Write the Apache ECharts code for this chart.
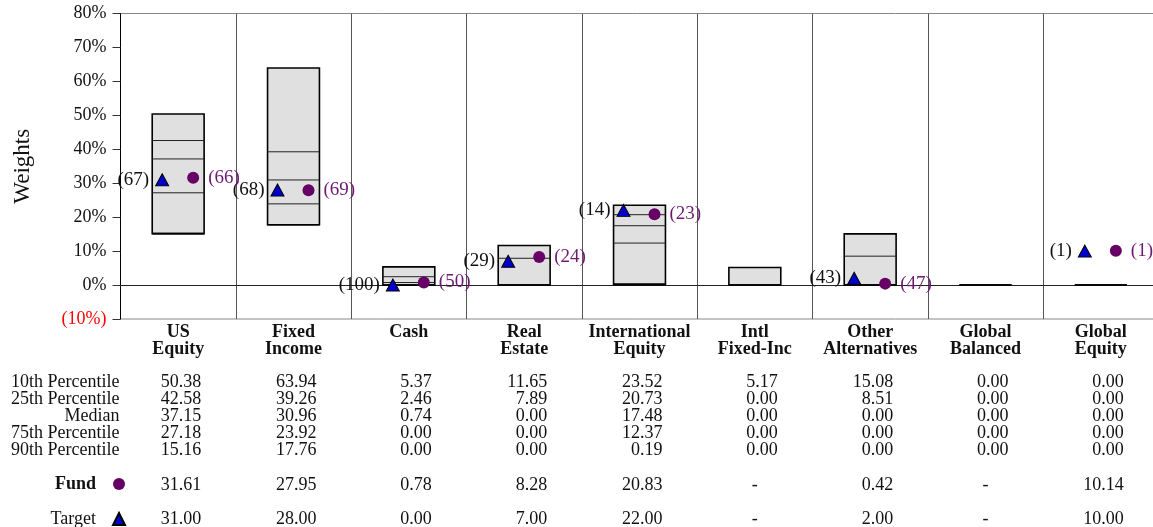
<!DOCTYPE html>
<html>
<head>
<meta charset="utf-8">
<script src="https://cdn.jsdelivr.net/npm/echarts@6/dist/echarts.min.js"></script>
<style>
  html, body { margin: 0; padding: 0; background: #fff; }
  #chart { width: 1153px; height: 527px; }
</style>
</head>
<body>
<div id="chart"></div>
<script>
// Asset classes shown along the x axis
const categories = ['US\nEquity', 'Fixed\nIncome', 'Cash', 'Real\nEstate', 'International\nEquity',
  'Intl\nFixed-Inc', 'Other\nAlternatives', 'Global\nBalanced', 'Global\nEquity'];

// Peer-group percentile weights (%)
const pct10 = [50.38, 63.94, 5.37, 11.65, 23.52, 5.17, 15.08, 0.00, 0.00];
const pct25 = [42.58, 39.26, 2.46, 7.89, 20.73, 0.00, 8.51, 0.00, 0.00];
const median = [37.15, 30.96, 0.74, 0.00, 17.48, 0.00, 0.00, 0.00, 0.00];
const pct75 = [27.18, 23.92, 0.00, 0.00, 12.37, 0.00, 0.00, 0.00, 0.00];
const pct90 = [15.16, 17.76, 0.00, 0.00, 0.19, 0.00, 0.00, 0.00, 0.00];

// Fund and target weights (%), null where not held
const fundWeights = [31.61, 27.95, 0.78, 8.28, 20.83, null, 0.42, null, 10.14];
const targetWeights = [31.00, 28.00, 0.00, 7.00, 22.00, null, 2.00, null, 10.00];

// Percentile ranks printed beside the markers
const fundRanks = [66, 69, 50, 24, 23, null, 47, null, 1];
const targetRanks = [67, 68, 100, 29, 14, null, 43, null, 1];

// Value axis range
const yMin = -10, yMax = 80, yStep = 10;

// Rows of the statistics table under the chart
const tableRows = [
  { name: '10th Percentile', values: pct10 },
  { name: '25th Percentile', values: pct25 },
  { name: 'Median', values: median },
  { name: '75th Percentile', values: pct75 },
  { name: '90th Percentile', values: pct90 },
  { name: '', values: fundWeights },
  { name: '', values: targetWeights }
];
const rowOffsets = [63, 80, 97, 114, 131, 166, 200];

const FONT = '"Liberation Serif", "DejaVu Serif", serif';
const TEXT = '#111';

function fmt(v) { return v == null ? '{d|-}' : '{v|' + v.toFixed(2) + '}'; }

function renderBox(params, api) {
  const x = api.value(0);
  const top = api.coord([x, api.value(1)]);
  const q1 = api.coord([x, api.value(2)]);
  const md = api.coord([x, api.value(3)]);
  const q3 = api.coord([x, api.value(4)]);
  const bot = api.coord([x, api.value(5)]);
  const w = api.size([1, 0])[0] * 0.45;
  const x0 = top[0] - w / 2;
  const inner = (p) => ({
    type: 'line',
    shape: { x1: x0, y1: p[1], x2: x0 + w, y2: p[1] },
    style: { stroke: '#222', lineWidth: 1 }
  });
  return {
    type: 'group',
    children: [
      { type: 'rect', shape: { x: x0, y: top[1], width: w, height: bot[1] - top[1] },
        style: { fill: '#e0e0e0', stroke: '#000', lineWidth: 1.6 } },
      inner(q1), inner(md), inner(q3),
      { type: 'line', shape: { x1: x0, y1: bot[1], x2: x0 + w, y2: bot[1] },
        style: { stroke: '#000', lineWidth: 1.6 } }
    ]
  };
}

const tableAxes = tableRows.map((row, r) => ({
  type: 'category',
  data: categories,
  gridIndex: 0,
  position: 'bottom',
  offset: rowOffsets[r],
  name: row.name,
  nameLocation: 'start',
  nameGap: 1,
  nameTextStyle: { fontFamily: FONT, fontSize: 18, color: TEXT, align: 'right', verticalAlign: 'middle' },
  axisLine: { show: false },
  axisTick: { show: false },
  splitLine: { show: false },
  axisLabel: {
    interval: 0,
    margin: 0,
    verticalAlign: 'middle',
    formatter: (val, idx) => fmt(row.values[idx]),
    rich: {
      v: { fontFamily: FONT, fontSize: 18, color: TEXT, width: 46, align: 'right' },
      d: { fontFamily: FONT, fontSize: 18, color: TEXT, width: 46, align: 'center' }
    }
  }
}));

const chart = echarts.init(document.getElementById('chart'));
chart.setOption({
  animation: false,
  backgroundColor: '#fff',
  textStyle: { fontFamily: FONT },
  grid: {
    left: 120.5, top: 13.5, width: 1038, bottom: 208,
    outerBoundsMode: 'none',
    show: true, borderColor: '#888', borderWidth: 1
  },
  legend: {
    orient: 'vertical',
    align: 'right',
    right: 1027,
    top: 475,
    height: 60,
    padding: 0,
    itemGap: 17,
    itemWidth: 12,
    itemHeight: 12,
    selectedMode: false,
    data: [
      { name: 'Fund', icon: 'circle', textStyle: { fontFamily: FONT, fontSize: 18, lineHeight: 14, color: TEXT, fontWeight: 'bold', padding: [0, 12, 0, 0] } },
      { name: 'Target', icon: 'triangle' }
    ],
    textStyle: { fontFamily: FONT, fontSize: 18, lineHeight: 14, color: TEXT, padding: [0, 12, 0, 0] }
  },
  xAxis: [
    {
      type: 'category',
      data: categories,
      boundaryGap: true,
      axisLine: { show: true, lineStyle: { color: '#222', width: 1 } },
      axisTick: { show: false },
      splitLine: { show: true, interval: 0, lineStyle: { color: '#555', width: 1 } },
      axisLabel: {
        interval: 0, margin: 5, fontFamily: FONT, fontSize: 18, fontWeight: 'bold',
        lineHeight: 17, color: TEXT
      }
    }
  ].concat(tableAxes),
  yAxis: {
    type: 'value',
    min: yMin, max: yMax, interval: yStep,
    name: 'Weights',
    nameLocation: 'middle',
    nameGap: 86,
    nameTextStyle: { fontFamily: FONT, fontSize: 23, color: TEXT },
    axisLine: { show: true, lineStyle: { color: '#000', width: 1 } },
    axisTick: { show: true, length: 8, lineStyle: { color: '#333' } },
    splitLine: {
      show: true,
      lineStyle: { color: ['transparent', '#444', 'transparent', 'transparent', 'transparent',
        'transparent', 'transparent', 'transparent', 'transparent', 'transparent'], width: 1 }
    },
    axisLabel: {
      margin: 14, fontFamily: FONT, fontSize: 18, color: TEXT,
      formatter: (v) => v < 0 ? '{neg|(' + (-v) + '%)}' : v + '%',
      rich: { neg: { fontFamily: FONT, fontSize: 18, color: '#ff0000' } }
    }
  },
  series: [
    {
      name: 'Range',
      type: 'custom',
      renderItem: renderBox,
      encode: { x: 0, y: [1, 2, 3, 4, 5] },
      data: categories.map((c, i) => [i, pct10[i], pct25[i], median[i], pct75[i], pct90[i]]),
      z: 2
    },
    {
      name: 'Target',
      type: 'scatter',
      symbol: 'triangle',
      symbolSize: [13, 12],
      symbolOffset: [-16, 0],
      itemStyle: { color: '#0000cc', borderColor: '#000', borderWidth: 1, opacity: 1 },
      data: targetWeights.map(v => v == null ? '-' : v),
      label: {
        show: true, position: 'left', distance: 6, fontFamily: FONT, fontSize: 19, color: TEXT,
        formatter: (p) => '(' + targetRanks[p.dataIndex] + ')'
      },
      z: 5
    },
    {
      name: 'Fund',
      type: 'scatter',
      symbol: 'circle',
      symbolSize: 12,
      symbolOffset: [15, 0],
      itemStyle: { color: '#660066', opacity: 1 },
      data: fundWeights.map(v => v == null ? '-' : v),
      label: {
        show: true, position: 'right', distance: 9, fontFamily: FONT, fontSize: 19, color: '#6e1a73',
        formatter: (p) => '(' + fundRanks[p.dataIndex] + ')'
      },
      z: 5
    }
  ]
});
</script>
</body>
</html>
